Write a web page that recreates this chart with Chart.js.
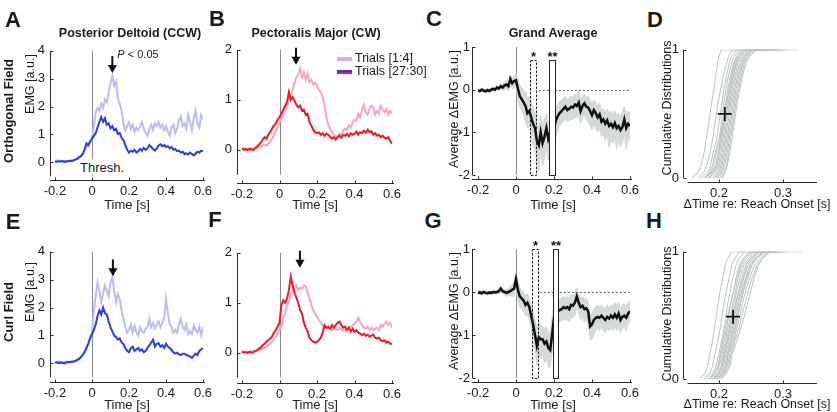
<!DOCTYPE html>
<html>
<head>
<meta charset="utf-8">
<title>EMG adaptation figure</title>
<script src="https://cdn.jsdelivr.net/npm/chart.js"></script>
<style>
  body { margin: 0; background: #fff; font-family: "Liberation Sans", Arial, sans-serif; color: #1a1a1a; }
  #fig { position: relative; width: 837px; height: 412px; overflow: hidden; }
  #fig canvas { position: absolute; }
  .t { position: absolute; transform: translate(-50%, -50%); white-space: nowrap; font-size: 13px; line-height: 1; }
  .r { transform: translate(-50%, -50%) rotate(-90deg); }
  .ya { font-size: 12.5px; }
  .b { font-weight: bold; }
  .letter { font-size: 22px; font-weight: bold; }
  .ttl { font-size: 12.5px; font-weight: bold; }
  .sw { position: absolute; width: 15px; height: 2px; }
</style>
<script>
// time axis [s], one sample every 10 ms
const timeS = [-0.2,-0.19,-0.18,-0.17,-0.16,-0.15,-0.14,-0.13,-0.12,-0.11,
  -0.1,-0.09,-0.08,-0.07,-0.06,-0.05,-0.04,-0.03,-0.02,-0.01,
  0,0.01,0.02,0.03,0.04,0.05,0.06,0.07,0.08,0.09,
  0.1,0.11,0.12,0.13,0.14,0.15,0.16,0.17,0.18,0.19,
  0.2,0.21,0.22,0.23,0.24,0.25,0.26,0.27,0.28,0.29,
  0.3,0.31,0.32,0.33,0.34,0.35,0.36,0.37,0.38,0.39,
  0.4,0.41,0.42,0.43,0.44,0.45,0.46,0.47,0.48,0.49,
  0.5,0.51,0.52,0.53,0.54,0.55,0.56,0.57,0.58,0.59,
  0.6];

// A: posterior deltoid, orthogonal field
const deltOrthEarly = [0.08,0.05,0.07,0.04,0.06,0.05,0.03,0.06,0.05,0.08,
  0.07,0.10,0.14,0.18,0.22,0.32,0.48,0.62,0.58,0.70,
  0.85,1.30,1.80,1.95,1.85,2.10,1.95,2.25,2.15,2.50,
  2.85,3.10,2.75,2.90,2.30,2.10,1.85,1.40,1.15,1.30,
  1.45,1.20,1.35,1.10,1.25,1.15,1.30,1.45,1.20,1.05,
  0.95,1.20,1.35,1.15,1.40,1.30,1.45,1.25,1.35,1.15,
  1.30,1.10,0.95,1.25,1.35,1.05,1.20,1.50,1.65,1.30,
  1.40,1.20,1.70,1.45,1.15,1.60,1.85,1.40,1.25,1.70,
  1.55];
const deltOrthLate = [0.03,0.02,0.04,0.03,0.05,0.02,0.04,0.03,0.06,0.04,
  0.07,0.10,0.12,0.18,0.22,0.30,0.45,0.68,0.62,0.75,
  0.85,0.95,1.05,1.25,1.45,1.62,1.45,1.58,1.35,1.40,
  1.22,1.30,1.15,1.20,1.02,1.05,0.88,0.80,0.62,0.45,
  0.35,0.42,0.38,0.45,0.35,0.40,0.48,0.42,0.52,0.45,
  0.50,0.62,0.55,0.48,0.42,0.50,0.60,0.65,0.58,0.62,
  0.55,0.58,0.50,0.55,0.45,0.48,0.40,0.42,0.35,0.38,
  0.30,0.32,0.28,0.35,0.30,0.25,0.32,0.38,0.35,0.42,
  0.40];

// B: pectoralis major, orthogonal field
const pecOrthEarly = [0.02,0.03,0.01,0.02,0.00,0.03,0.02,0.04,0.03,0.05,
  0.06,0.08,0.10,0.08,0.12,0.16,0.22,0.30,0.38,0.45,
  0.55,0.62,0.70,0.78,0.88,1.00,1.10,1.20,1.35,1.45,
  1.50,1.62,1.45,1.55,1.40,1.52,1.35,1.40,1.30,1.35,
  1.28,1.20,1.15,1.05,0.90,0.65,0.50,0.42,0.35,0.30,
  0.25,0.28,0.32,0.30,0.38,0.42,0.40,0.50,0.45,0.55,
  0.60,0.58,0.72,0.65,0.80,0.90,0.75,0.70,0.82,0.88,
  0.85,0.70,0.78,0.72,0.88,0.80,0.75,0.82,0.70,0.78,
  0.72];
const pecOrthLate = [0.02,0.00,0.01,-0.01,0.02,0.00,-0.01,0.03,0.06,0.10,
  0.14,0.20,0.25,0.22,0.30,0.35,0.42,0.48,0.52,0.60,
  0.65,0.72,0.80,0.88,0.95,1.15,1.00,1.05,0.98,0.90,
  0.85,0.88,0.78,0.80,0.70,0.72,0.55,0.48,0.40,0.35,
  0.33,0.35,0.30,0.33,0.28,0.32,0.30,0.26,0.22,0.25,
  0.20,0.25,0.28,0.24,0.30,0.28,0.32,0.27,0.33,0.30,
  0.32,0.36,0.30,0.35,0.33,0.38,0.34,0.40,0.35,0.37,
  0.30,0.33,0.28,0.30,0.25,0.28,0.24,0.22,0.25,0.18,
  0.12];

// C: grand average change, orthogonal field (mean and spread)
const gaOrthMean = [-0.02,-0.03,0.00,-0.02,-0.04,-0.01,-0.03,0.00,0.02,0.00,
  0.05,0.03,0.08,0.05,0.10,0.12,0.08,0.25,0.15,0.20,
  0.22,0.02,-0.15,-0.22,-0.30,-0.38,-0.55,-0.50,-0.65,-0.80,
  -0.90,-1.20,-1.30,-1.00,-1.25,-1.10,-0.90,-1.15,-1.00,-1.10,
  -0.95,-0.72,-0.62,-0.55,-0.50,-0.45,-0.40,-0.48,-0.45,-0.40,
  -0.42,-0.35,-0.38,-0.30,-0.50,-0.38,-0.32,-0.40,-0.42,-0.50,
  -0.60,-0.48,-0.55,-0.65,-0.58,-0.75,-0.70,-0.80,-0.72,-0.85,
  -0.80,-0.88,-0.78,-0.90,-0.85,-0.95,-0.88,-0.70,-0.90,-0.80,
  -0.85];
const gaOrthUpper = [0.02,0.01,0.04,0.02,0.00,0.03,0.01,0.05,0.06,0.04,
  0.10,0.08,0.14,0.12,0.20,0.22,0.18,0.35,0.28,0.32,
  0.38,0.25,0.10,0.05,-0.02,-0.05,-0.20,-0.15,-0.30,-0.40,
  -0.55,-0.80,-0.90,-0.60,-0.85,-0.70,-0.55,-0.80,-0.65,-0.75,
  -0.60,-0.40,-0.35,-0.28,-0.25,-0.20,-0.15,-0.25,-0.20,-0.15,
  -0.18,-0.10,-0.15,0.00,-0.25,-0.15,-0.10,-0.20,-0.15,-0.25,
  -0.35,-0.25,-0.30,-0.40,-0.30,-0.50,-0.45,-0.55,-0.45,-0.55,
  -0.50,-0.60,-0.50,-0.62,-0.55,-0.65,-0.55,-0.40,-0.60,-0.50,
  -0.55];
const gaOrthLower = [-0.06,-0.07,-0.04,-0.06,-0.08,-0.05,-0.07,-0.05,-0.03,-0.05,
  0.00,-0.03,0.02,-0.02,0.00,0.02,-0.02,0.12,0.02,0.05,
  0.05,-0.25,-0.40,-0.50,-0.60,-0.75,-0.90,-0.85,-1.10,-1.30,
  -1.40,-1.70,-1.90,-1.45,-1.80,-1.60,-1.35,-1.65,-1.40,-1.55,
  -1.40,-1.10,-0.95,-0.85,-0.80,-0.75,-0.70,-0.75,-0.72,-0.70,
  -0.70,-0.65,-0.65,-0.60,-0.80,-0.65,-0.60,-0.70,-0.75,-0.85,
  -0.95,-0.80,-0.90,-1.00,-0.90,-1.10,-1.05,-1.20,-1.05,-1.35,
  -1.20,-1.25,-1.10,-1.40,-1.20,-1.35,-1.25,-1.05,-1.40,-1.15,
  -1.20];

// E: posterior deltoid, curl field
const deltCurlEarly = [0.06,0.04,0.07,0.05,0.03,0.06,0.04,0.07,0.05,0.08,
  0.07,0.10,0.14,0.18,0.24,0.32,0.42,0.55,0.75,0.95,
  1.10,1.90,2.40,2.90,2.60,2.20,2.50,2.80,2.60,2.40,
  2.90,3.10,2.60,2.20,2.50,2.30,1.90,1.60,1.30,1.10,
  1.20,1.40,1.10,1.35,1.10,1.00,1.30,1.15,1.10,1.25,
  1.30,1.60,1.30,1.45,1.25,1.40,1.50,1.30,1.45,1.60,
  2.30,1.80,1.40,1.30,1.10,1.20,1.10,1.40,1.60,1.30,
  1.20,1.40,1.05,1.15,1.05,1.35,1.20,1.10,1.30,1.00,
  1.30];
const deltCurlLate = [0.02,0.04,0.01,0.03,0.02,0.00,0.03,0.05,0.04,0.06,
  0.06,0.09,0.12,0.16,0.22,0.30,0.40,0.55,0.70,0.90,
  1.05,1.20,1.40,1.70,1.90,1.75,2.00,1.80,1.75,1.50,
  1.30,1.15,1.00,0.95,0.85,0.90,0.75,0.70,0.55,0.45,
  0.40,0.55,0.60,0.45,0.50,0.55,0.45,0.50,0.40,0.45,
  0.55,0.65,0.75,0.85,0.60,0.70,0.72,0.60,0.65,0.55,
  0.70,0.60,0.55,0.48,0.40,0.35,0.38,0.32,0.30,0.35,
  0.35,0.30,0.28,0.25,0.20,0.28,0.35,0.30,0.45,0.50,
  0.55];

// F: pectoralis major, curl field
const pecCurlEarly = [0.02,0.03,0.01,0.02,0.00,0.02,0.03,0.02,0.04,0.05,
  0.06,0.08,0.10,0.12,0.15,0.18,0.22,0.28,0.32,0.38,
  0.45,0.55,0.68,0.80,0.95,1.05,1.15,1.25,1.30,1.35,
  1.25,1.30,1.28,1.35,1.32,1.20,1.10,0.95,0.85,0.78,
  0.72,0.65,0.60,0.55,0.50,0.52,0.48,0.50,0.45,0.50,
  0.48,0.45,0.50,0.46,0.44,0.45,0.48,0.52,0.50,0.55,
  0.58,0.62,0.70,0.62,0.55,0.50,0.48,0.52,0.45,0.50,
  0.45,0.48,0.50,0.45,0.55,0.52,0.58,0.62,0.55,0.60,
  0.50];
const pecCurlLate = [0.02,0.00,0.01,-0.01,0.02,0.00,0.01,0.03,0.05,0.08,
  0.10,0.15,0.18,0.22,0.25,0.28,0.32,0.40,0.45,0.52,
  0.60,0.95,1.05,1.00,1.08,1.25,1.52,1.35,1.20,1.10,
  1.00,0.85,0.78,0.60,0.50,0.42,0.30,0.25,0.22,0.20,
  0.22,0.25,0.30,0.40,0.55,0.50,0.52,0.48,0.55,0.50,
  0.55,0.60,0.62,0.55,0.50,0.52,0.45,0.50,0.42,0.48,
  0.42,0.45,0.40,0.38,0.35,0.38,0.34,0.36,0.32,0.34,
  0.36,0.30,0.28,0.30,0.25,0.23,0.25,0.20,0.22,0.18,
  0.18];

// G: grand average change, curl field
const gaCurlMean = [-0.02,-0.01,-0.03,0.00,-0.02,-0.03,-0.01,-0.02,0.00,-0.01,
  0.00,0.02,0.08,0.02,0.00,-0.02,0.00,0.02,0.05,0.08,
  0.30,0.05,-0.10,-0.15,-0.20,-0.30,-0.25,-0.35,-0.55,-0.75,
  -1.00,-1.25,-1.05,-1.10,-1.10,-1.20,-1.15,-1.30,-1.35,-1.00,
  -0.60,-0.50,-0.45,-0.42,-0.40,-0.35,-0.38,-0.35,-0.40,-0.30,
  -0.32,-0.25,-0.10,-0.25,-0.35,-0.32,-0.40,-0.38,-0.45,-0.80,
  -0.75,-0.65,-0.60,-0.58,-0.60,-0.55,-0.60,-0.65,-0.58,-0.62,
  -0.55,-0.60,-0.52,-0.60,-0.50,-0.65,-0.58,-0.55,-0.60,-0.50,
  -0.45];
const gaCurlUpper = [0.02,0.03,0.01,0.04,0.02,0.01,0.03,0.02,0.05,0.03,
  0.05,0.08,0.14,0.08,0.06,0.05,0.08,0.12,0.18,0.25,
  0.45,0.25,0.10,0.05,0.00,-0.10,-0.05,-0.15,-0.30,-0.45,
  -0.65,-0.85,-0.70,-0.75,-0.80,-0.85,-0.80,-0.95,-0.95,-0.60,
  -0.30,-0.25,-0.20,-0.18,-0.15,-0.10,-0.15,-0.10,-0.18,-0.05,
  -0.10,0.00,0.10,-0.05,-0.15,-0.10,-0.20,-0.15,-0.25,-0.55,
  -0.50,-0.40,-0.35,-0.30,-0.35,-0.30,-0.35,-0.40,-0.30,-0.38,
  -0.30,-0.35,-0.25,-0.30,-0.25,-0.40,-0.30,-0.28,-0.35,-0.25,
  -0.20];
const gaCurlLower = [-0.06,-0.05,-0.07,-0.04,-0.06,-0.07,-0.05,-0.06,-0.05,-0.05,
  -0.05,-0.04,0.02,-0.04,-0.06,-0.10,-0.08,-0.08,-0.10,-0.10,
  0.10,-0.20,-0.35,-0.40,-0.45,-0.55,-0.55,-0.65,-0.85,-1.10,
  -1.40,-1.70,-1.45,-1.55,-1.50,-1.65,-1.55,-1.75,-1.75,-1.40,
  -0.95,-0.80,-0.75,-0.70,-0.65,-0.65,-0.62,-0.65,-0.70,-0.60,
  -0.60,-0.55,-0.35,-0.50,-0.65,-0.60,-0.70,-0.65,-0.75,-1.10,
  -1.10,-1.00,-0.90,-0.85,-0.90,-0.80,-0.90,-0.95,-0.85,-0.90,
  -0.85,-0.90,-0.80,-0.90,-0.80,-0.95,-0.85,-0.80,-0.90,-0.75,
  -0.70];

// D / H: cumulative distributions, x value [s] reached at each level
const cdfLevels = [0,0.05,0.1,0.2,0.3,0.4,0.5,0.6,0.7,0.8,0.9,0.95,1,1];
const cdfOrth = [
  [0.158,0.168,0.172,0.177,0.180,0.183,0.186,0.189,0.192,0.195,0.198,0.200,0.204,0.25],
  [0.168,0.177,0.181,0.186,0.190,0.193,0.196,0.199,0.203,0.207,0.212,0.215,0.222,0.26],
  [0.172,0.183,0.187,0.191,0.196,0.199,0.202,0.205,0.208,0.212,0.216,0.220,0.228,0.27],
  [0.180,0.188,0.192,0.196,0.200,0.203,0.205,0.208,0.211,0.215,0.220,0.224,0.232,0.28],
  [0.176,0.190,0.195,0.199,0.202,0.205,0.208,0.211,0.214,0.218,0.223,0.228,0.238,0.323],
  [0.186,0.193,0.197,0.201,0.204,0.207,0.210,0.213,0.216,0.220,0.226,0.231,0.240,0.29],
  [0.184,0.195,0.199,0.203,0.206,0.209,0.212,0.215,0.219,0.223,0.228,0.233,0.243,0.30],
  [0.190,0.198,0.201,0.205,0.208,0.211,0.214,0.217,0.221,0.225,0.230,0.236,0.246,0.31],
  [0.193,0.200,0.203,0.207,0.210,0.213,0.216,0.219,0.223,0.227,0.233,0.238,0.248,0.30],
  [0.196,0.202,0.205,0.209,0.212,0.215,0.218,0.221,0.225,0.229,0.235,0.240,0.250,0.30],
  [0.198,0.204,0.207,0.211,0.214,0.217,0.220,0.223,0.227,0.231,0.237,0.242,0.252,0.28],
  [0.201,0.206,0.209,0.213,0.216,0.219,0.222,0.225,0.229,0.233,0.238,0.243,0.253,0.27],
  [0.204,0.209,0.212,0.215,0.218,0.221,0.224,0.227,0.231,0.235,0.240,0.246,0.256,0.26],
  [0.178,0.186,0.190,0.194,0.200,0.206,0.209,0.212,0.216,0.220,0.224,0.228,0.236,0.27],
  [0.183,0.191,0.196,0.199,0.203,0.206,0.211,0.216,0.218,0.222,0.227,0.232,0.242,0.29],
  [0.205,0.210,0.213,0.217,0.220,0.223,0.226,0.229,0.233,0.237,0.242,0.248,0.258,0.26]
];
const cdfCurl = [
  [0.170,0.178,0.182,0.186,0.190,0.193,0.196,0.199,0.202,0.206,0.210,0.214,0.220,0.24],
  [0.176,0.186,0.190,0.194,0.198,0.202,0.205,0.208,0.212,0.216,0.220,0.225,0.232,0.25],
  [0.180,0.190,0.195,0.200,0.204,0.208,0.211,0.214,0.218,0.222,0.227,0.232,0.240,0.27],
  [0.184,0.193,0.198,0.203,0.208,0.212,0.215,0.219,0.223,0.227,0.232,0.238,0.247,0.28],
  [0.186,0.195,0.200,0.205,0.210,0.214,0.218,0.222,0.226,0.230,0.236,0.243,0.253,0.33],
  [0.189,0.198,0.203,0.207,0.212,0.216,0.220,0.224,0.228,0.233,0.239,0.246,0.256,0.29],
  [0.191,0.200,0.205,0.209,0.214,0.218,0.222,0.226,0.231,0.236,0.242,0.249,0.260,0.30],
  [0.193,0.202,0.207,0.211,0.216,0.221,0.225,0.229,0.234,0.239,0.246,0.253,0.264,0.31],
  [0.195,0.204,0.209,0.213,0.218,0.223,0.227,0.231,0.236,0.242,0.249,0.256,0.268,0.30],
  [0.197,0.206,0.211,0.215,0.221,0.226,0.230,0.234,0.239,0.245,0.252,0.260,0.272,0.29],
  [0.199,0.208,0.213,0.217,0.223,0.228,0.233,0.237,0.242,0.248,0.256,0.265,0.276,0.28],
  [0.202,0.210,0.215,0.219,0.225,0.231,0.236,0.241,0.246,0.252,0.260,0.268,0.280,0.28],
  [0.204,0.212,0.217,0.221,0.228,0.234,0.240,0.245,0.250,0.255,0.262,0.268,0.278,0.28],
  [0.185,0.194,0.199,0.202,0.206,0.210,0.214,0.218,0.223,0.228,0.234,0.240,0.250,0.27],
  [0.192,0.200,0.205,0.208,0.213,0.219,0.223,0.227,0.232,0.238,0.244,0.250,0.262,0.29],
  [0.198,0.206,0.211,0.214,0.219,0.224,0.229,0.233,0.238,0.243,0.250,0.258,0.270,0.30]
];
const cdfMarkOrth = [0.209, 0.5];
const cdfMarkCurl = [0.222, 0.49];

// annotations
const arrowTimes = { A: 0.11, B: 0.088, E: 0.113, F: 0.109 };
const arrowTips = { A: 3.2, B: 1.7, E: 3.12, F: 1.7 };
const winStart = { C: [0.072, 0.175], G: [0.084, 0.193] };
const winEnd = { C: [0.105, 0.203], G: [0.115, 0.223] };
const winTop = { C: 0.7, G: 1.0 };
const winStars = ['*', '**'];

// tick labels
const timeTicks = [-0.2, 0, 0.2, 0.4, 0.6];
const cdfTimeTicks = [0.2, 0.3];
const emgTicksA = [0, 1, 2, 3, 4];
const emgTicksB = [0, 1, 2];
const deltaTicks = [-2, -1, 0, 1];
const cdfTicks = [0, 1];
</script>
</head>
<body>
<div id="fig">
  <div class="t letter" style="left:13px;top:20px">A</div>
  <div class="t letter" style="left:217px;top:19px">B</div>
  <div class="t letter" style="left:434px;top:19px">C</div>
  <div class="t letter" style="left:655px;top:20px">D</div>
  <div class="t letter" style="left:13px;top:222px">E</div>
  <div class="t letter" style="left:215px;top:220px">F</div>
  <div class="t letter" style="left:433px;top:221px">G</div>
  <div class="t letter" style="left:654px;top:221px">H</div>

  <div class="t ttl" style="left:130px;top:33px">Posterior Deltoid (CCW)</div>
  <div class="t ttl" style="left:316px;top:33px">Pectoralis Major (CW)</div>
  <div class="t ttl" style="left:553px;top:33px">Grand Average</div>

  <div class="t r b" style="left:8px;top:111px">Orthogonal Field</div>
  <div class="t r b" style="left:8px;top:312px">Curl Field</div>

  <div class="t r ya" style="left:30px;top:84px">EMG [a.u.]</div>
  <div class="t r ya" style="left:30px;top:292px">EMG [a.u.]</div>
  <div class="t r ya" style="left:454px;top:109px">Average ΔEMG [a.u.]</div>
  <div class="t r ya" style="left:454px;top:311px">Average ΔEMG [a.u.]</div>
  <div class="t r ya" style="left:667px;top:108px">Cumulative Distributions</div>
  <div class="t r ya" style="left:667px;top:314px">Cumulative Distributions</div>

  <div class="t" style="left:127px;top:204px">Time [s]</div>
  <div class="t" style="left:315px;top:204px">Time [s]</div>
  <div class="t" style="left:553px;top:204px">Time [s]</div>
  <div class="t" style="left:757px;top:204px;font-size:12.5px">ΔTime re: Reach Onset [s]</div>
  <div class="t" style="left:127px;top:404px">Time [s]</div>
  <div class="t" style="left:315px;top:404px">Time [s]</div>
  <div class="t" style="left:553px;top:404px">Time [s]</div>
  <div class="t" style="left:757px;top:404px;font-size:12.5px">ΔTime re: Reach Onset [s]</div>
</div>
<script>
const fig = document.getElementById('fig');
const darkBlue = '#2a3de4', lightBlue = '#bcbcf3', red = '#ee1c24', pink = '#f7a5c5';
const bandFill = '#d5dada', bandEdge = '#c8cfcf', cdfGray = '#bac2c2';
const tickFont = { family: 'Liberation Sans', size: 13 };

const pts = arr => timeS.map((t, i) => ({ x: t, y: arr[i] }));
const trace = (arr, color, w) => ({ data: pts(arr), borderColor: color, borderWidth: w, pointRadius: 0 });

function deco(o) {
  return {
    id: 'deco',
    beforeDatasetsDraw(chart) {
      const { ctx, scales: { x, y }, chartArea } = chart;
      if (o.zeroLine) {
        ctx.save();
        ctx.strokeStyle = '#8a8a8a';
        ctx.lineWidth = 1;
        ctx.beginPath();
        const px = Math.round(x.getPixelForValue(0)) + 0.5;
        ctx.moveTo(px, chartArea.top);
        ctx.lineTo(px, y.getPixelForValue(o.yLow));
        ctx.stroke();
        ctx.restore();
      }
    },
    afterDatasetsDraw(chart) {
      const { ctx, scales: { x, y } } = chart;
      ctx.save();
      if (o.hLineFrom !== undefined) {
        ctx.strokeStyle = '#666';
        ctx.setLineDash([2, 2]);
        ctx.lineWidth = 1;
        const py = Math.round(y.getPixelForValue(0)) + 0.5;
        ctx.beginPath();
        ctx.moveTo(x.getPixelForValue(o.hLineFrom), py);
        ctx.lineTo(x.getPixelForValue(0.6), py);
        ctx.stroke();
        ctx.setLineDash([]);
      }
      if (o.win) {
        o.win.start.forEach((s, i) => {
          const x0 = Math.round(x.getPixelForValue(s)) + 0.5;
          const x1 = Math.round(x.getPixelForValue(o.win.end[i])) + 0.5;
          const y0 = Math.round(y.getPixelForValue(o.win.top)) + 0.5;
          const y1 = Math.round(y.getPixelForValue(-2)) + 0.5;
          if (i === 1) { ctx.fillStyle = '#fff'; ctx.fillRect(x0, y0, x1 - x0, y1 - y0); }
          ctx.strokeStyle = '#222';
          ctx.lineWidth = 1;
          ctx.setLineDash(i === 0 ? [2.5, 1.5] : []);
          ctx.strokeRect(x0, y0, x1 - x0, y1 - y0);
          ctx.setLineDash([]);
          ctx.fillStyle = '#111';
          ctx.font = 'bold 13px "Liberation Sans"';
          ctx.textAlign = 'center';
          ctx.textBaseline = 'middle';
          ctx.fillText(winStars[i], (x0 + x1) / 2, y0 - 3);
        });
      }
      if (o.arrow) {
        const px = x.getPixelForValue(o.arrow[0]);
        const py = y.getPixelForValue(o.arrow[1]);
        ctx.strokeStyle = '#111';
        ctx.fillStyle = '#111';
        ctx.lineWidth = 2;
        ctx.beginPath();
        ctx.moveTo(px, py - 17);
        ctx.lineTo(px, py - 6);
        ctx.stroke();
        ctx.beginPath();
        ctx.moveTo(px - 4.5, py - 8);
        ctx.lineTo(px + 4.5, py - 8);
        ctx.lineTo(px, py);
        ctx.closePath();
        ctx.fill();
      }
      ctx.restore();
    },
    afterDraw(chart) {
      const { ctx, scales: { x, y }, chartArea: ca } = chart;
      ctx.save();
      ctx.strokeStyle = '#2a2a2a';
      ctx.lineWidth = 1;
      const lx = Math.round(ca.left) + 0.5;
      const by = Math.round(ca.bottom) + 0.5;
      const yBot = y.getPixelForValue(o.yLow);
      ctx.beginPath();
      ctx.moveTo(lx, ca.top);
      ctx.lineTo(lx, yBot);
      ctx.moveTo(x.getPixelForValue(o.xLow), by);
      ctx.lineTo(ca.right + 2, by);
      x.ticks.forEach(t => {
        const px = Math.round(x.getPixelForValue(t.value)) + 0.5;
        ctx.moveTo(px, by);
        ctx.lineTo(px, by - 3);
      });
      y.ticks.forEach(t => {
        const py = Math.round(y.getPixelForValue(t.value)) + 0.5;
        ctx.moveTo(lx, py);
        ctx.lineTo(lx + 3, py);
      });
      ctx.stroke();
      ctx.restore();
    }
  };
}

function makePanel(box, o) {
  const padT = 10, padR = 16, yW = 30, xH = 22;
  const c = document.createElement('canvas');
  c.width = box.R - box.L + yW + padR;
  c.height = box.B - box.T + padT + xH;
  c.style.left = (box.L - yW) + 'px';
  c.style.top = (box.T - padT) + 'px';
  fig.insertBefore(c, fig.firstChild);
  new Chart(c, {
    type: 'line',
    data: { datasets: o.datasets },
    options: {
      responsive: false,
      animation: false,
      events: [],
      layout: { padding: { top: padT, right: padR, left: 0, bottom: 0 } },
      plugins: { legend: { display: false }, tooltip: { enabled: false } },
      elements: { point: { radius: 0 }, line: { tension: 0 } },
      scales: {
        x: {
          type: 'linear', min: o.xMin, max: o.xMax,
          grid: { display: false, drawTicks: false }, border: { display: false },
          ticks: { padding: 4, font: tickFont, color: '#1a1a1a', maxRotation: 0, autoSkip: false, callback: v => v },
          afterBuildTicks: s => { s.ticks = o.xTicks.map(v => ({ value: v })); },
          afterFit: s => { s.height = xH; }
        },
        y: {
          type: 'linear', min: o.yMin, max: o.yMax,
          grid: { display: false, drawTicks: false }, border: { display: false },
          ticks: { padding: o.yPad || 5, font: tickFont, color: '#1a1a1a', autoSkip: false, callback: v => v },
          afterBuildTicks: s => { s.ticks = o.yTicks.map(v => ({ value: v })); },
          afterFit: s => { s.width = yW; }
        }
      }
    },
    plugins: [deco(o)]
  });
}

function bandSets(mean, upper, lower) {
  return [
    trace(mean, '#111', 2.5),
    { data: pts(upper), borderColor: bandEdge, borderWidth: 0.8, pointRadius: 0, fill: '+1', backgroundColor: bandFill },
    { data: pts(lower), borderColor: bandEdge, borderWidth: 0.8, pointRadius: 0 }
  ];
}

function cdfSets(curves, mark) {
  const sets = [{
    data: [{ x: mark[0], y: mark[1] }], showLine: false,
    pointStyle: 'cross', pointRadius: 7, pointBorderWidth: 1.8, pointBorderColor: '#111', borderColor: '#111'
  }];
  curves.forEach(cv => sets.push({
    data: cdfLevels.map((l, i) => ({ x: cv[i], y: l })),
    borderColor: cdfGray, borderWidth: 1, pointRadius: 0
  }));
  return sets;
}

// top row
makePanel({ L: 50, R: 203, T: 48, B: 180 }, {
  datasets: [trace(deltOrthLate, darkBlue, 2), trace(deltOrthEarly, lightBlue, 2)],
  xMin: -0.227, xMax: 0.6, yMin: -0.632, yMax: 4, yLow: -0.5, xLow: -0.227,
  xTicks: timeTicks, yTicks: emgTicksA, zeroLine: true, arrow: [arrowTimes.A, arrowTips.A]
});
makePanel({ L: 237, R: 392, T: 47, B: 183 }, {
  datasets: [trace(pecOrthLate, red, 2), trace(pecOrthEarly, pink, 2)],
  xMin: -0.2267, xMax: 0.6, yMin: -0.667, yMax: 2, yLow: -0.5, xLow: -0.2267,
  xTicks: timeTicks, yTicks: emgTicksB, zeroLine: true, arrow: [arrowTimes.B, arrowTips.B]
});
makePanel({ L: 472, R: 630, T: 47, B: 179 }, {
  datasets: bandSets(gaOrthMean, gaOrthUpper, gaOrthLower),
  xMin: -0.2316, xMax: 0.6, yMin: -2.094, yMax: 1, yLow: -2, xLow: -0.2316, yPad: 2,
  xTicks: timeTicks, yTicks: deltaTicks, zeroLine: true, hLineFrom: 0.12,
  win: { start: winStart.C, end: winEnd.C, top: winTop.C }
});
makePanel({ L: 683, R: 815, T: 48, B: 182 }, {
  datasets: cdfSets(cdfOrth, cdfMarkOrth),
  xMin: 0.14375, xMax: 0.35, yMin: -0.031, yMax: 1, yLow: 0, xLow: 0.151, yPad: 4,
  xTicks: cdfTimeTicks, yTicks: cdfTicks
});

// bottom row
makePanel({ L: 50, R: 203, T: 249, B: 382 }, {
  datasets: [trace(deltCurlLate, darkBlue, 2), trace(deltCurlEarly, lightBlue, 2)],
  xMin: -0.227, xMax: 0.6, yMin: -0.667, yMax: 4, yLow: -0.5, xLow: -0.227,
  xTicks: timeTicks, yTicks: emgTicksA, zeroLine: true, arrow: [arrowTimes.E, arrowTips.E]
});
makePanel({ L: 237, R: 392, T: 250, B: 383 }, {
  datasets: [trace(pecCurlLate, red, 2), trace(pecCurlEarly, pink, 2)],
  xMin: -0.2267, xMax: 0.6, yMin: -0.608, yMax: 2, yLow: -0.5, xLow: -0.2267,
  xTicks: timeTicks, yTicks: emgTicksB, zeroLine: true, arrow: [arrowTimes.F, arrowTips.F]
});
makePanel({ L: 472, R: 630, T: 249, B: 382 }, {
  datasets: bandSets(gaCurlMean, gaCurlUpper, gaCurlLower),
  xMin: -0.2316, xMax: 0.6, yMin: -2.093, yMax: 1, yLow: -2, xLow: -0.2316, yPad: 2,
  xTicks: timeTicks, yTicks: deltaTicks, zeroLine: true, hLineFrom: 0.125,
  win: { start: winStart.G, end: winEnd.G, top: winTop.G }
});
makePanel({ L: 683, R: 815, T: 250, B: 383 }, {
  datasets: cdfSets(cdfCurl, cdfMarkCurl),
  xMin: 0.14375, xMax: 0.35, yMin: -0.031, yMax: 1, yLow: 0, xLow: 0.151, yPad: 4,
  xTicks: cdfTimeTicks, yTicks: cdfTicks
});

// extra labels that sit on top of the plots
function addText(html, css) {
  const d = document.createElement('div');
  d.className = 't';
  d.innerHTML = html;
  d.style.cssText += css;
  fig.appendChild(d);
}
addText('Thresh.', 'left:102px;top:167px;background:#fff;padding:1px 1px;');
addText('<i>P</i> &lt; 0.05', 'left:138px;top:54px;font-size:11px;');
addText('Trials [1:4]', 'left:355px;top:58px;transform:translate(0,-50%);font-size:12.5px;');
addText('Trials [27:30]', 'left:355px;top:71px;transform:translate(0,-50%);font-size:12.5px;');
[['57px', lightBlue], ['59px', pink], ['70px', darkBlue], ['72px', red]].forEach(([top, col]) => {
  const s = document.createElement('div');
  s.className = 'sw';
  s.style.left = '337px';
  s.style.top = top;
  s.style.height = '1.6px';
  s.style.background = col;
  fig.appendChild(s);
});
</script>
</body>
</html>
